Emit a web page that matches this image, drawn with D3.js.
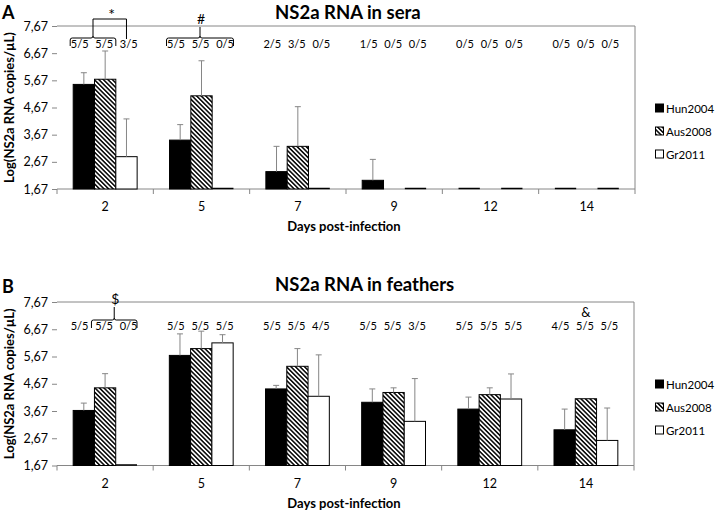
<!DOCTYPE html>
<html><head><meta charset="utf-8">
<script src="https://cdn.jsdelivr.net/npm/d3@7"></script>
<style>
body{margin:0;background:#fff}
svg{display:block}
text{font-family:Lato,"Open Sans",sans-serif;fill:#000}
</style>
</head><body>
<svg id="c" width="716" height="510"></svg>
<script>
// ---------- data ----------
const days = ["2","5","7","9","12","14"];
const series = ["Hun2004","Aus2008","Gr2011"];
const yTicks = [1.67,2.67,3.67,4.67,5.67,6.67,7.67];
const yTickLabels = ["1,67","2,67","3,67","4,67","5,67","6,67","7,67"];

// Panel A: sera
const seraHun    = [5.52,3.47,2.31,1.99,1.67,1.67];
const seraAus    = [5.71,5.10,3.24,1.67,1.67,1.67];
const seraGr     = [2.86,1.67,1.67,1.67,1.67,1.67];
const seraHunErr = [0.43,0.57,0.93,0.77,0,0];
const seraAusErr = [1.04,1.29,1.46,0,0,0];
const seraGrErr  = [1.39,0,0,0,0,0];
const seraNHun   = ["5/5","5/5","2/5","1/5","0/5","0/5"];
const seraNAus   = ["5/5","5/5","3/5","0/5","0/5","0/5"];
const seraNGr    = ["3/5","0/5","0/5","0/5","0/5","0/5"];

// Panel B: feathers
const feathHun    = [3.69,5.71,4.48,3.99,3.74,2.98];
const feathAus    = [4.52,5.96,5.31,4.35,4.27,4.12];
const feathGr     = [1.67,6.17,4.21,3.29,4.11,2.59];
const feathHunErr = [0.27,0.79,0.13,0.49,0.44,0.76];
const feathAusErr = [0.52,0.64,0.65,0.17,0.25,0];
const feathGrErr  = [0,0.30,1.52,1.57,0.92,1.19];
const feathNHun   = ["5/5","5/5","5/5","5/5","5/5","4/5"];
const feathNAus   = ["5/5","5/5","5/5","5/5","5/5","5/5"];
const feathNGr    = ["0/5","5/5","4/5","3/5","5/5","5/5"];

// significance annotations
const seraBraces  = [{day:"2",from:0,to:1,target:2,symbol:"*"},{day:"5",from:0,to:2,symbol:"#"}];
const feathBraces = [{day:"2",from:1,to:2,symbol:"$"}];
const feathMarks  = [{day:"14",series:1,symbol:"&"}];

// ---------- drawing ----------
const svg = d3.select("#c");
const defs = svg.append("defs");
const pat = defs.append("pattern").attr("id","hatch")
  .attr("patternUnits","userSpaceOnUse").attr("width",3.2).attr("height",3.2)
  .attr("patternTransform","rotate(-45)");
pat.append("rect").attr("width",3.2).attr("height",3.2).attr("fill","#fff");
pat.append("line").attr("x1",0.8).attr("x2",0.8).attr("y1",0).attr("y2",3.2)
  .attr("stroke","#000").attr("stroke-width",1.5);

const fills = ["#000","url(#hatch)","#fff"];
const grey = "#868686";

const panels = [
  {letter:"A", title:"NS2a RNA in sera", top:26, bottom:189, left:57, right:635,
   vals:[seraHun,seraAus,seraGr], errs:[seraHunErr,seraAusErr,seraGrErr],
   ns:[seraNHun,seraNAus,seraNGr], braces:seraBraces, marks:[], labelY:44,
   letterY:19, titleY:19, legY:[108,131,154]},
  {letter:"B", title:"NS2a RNA in feathers", top:302, bottom:465.5, left:57, right:634,
   vals:[feathHun,feathAus,feathGr], errs:[feathHunErr,feathAusErr,feathGrErr],
   ns:[feathNHun,feathNAus,feathNGr], braces:feathBraces, marks:feathMarks, labelY:326,
   letterY:293, titleY:291, legY:[384,407,430]}
];

panels.forEach(p => {
  const g = svg.append("g");
  const x0 = d3.scaleBand().domain(days).range([p.left,p.right]).padding(0);
  const x1 = d3.scaleBand().domain(series).range([0,x0.bandwidth()]).paddingInner(0).paddingOuter(0.76);
  const y = d3.scaleLinear().domain([1.67,7.67]).range([p.bottom,p.top]);
  const bw = x1.bandwidth();
  const barL = (d,j) => x0(d)+x1(series[j]);
  const barC = (d,j) => barL(d,j)+bw/2;

  // letter + title
  g.append("text").attr("x",2).attr("y",p.letterY).attr("font-size",18).attr("font-weight","bold").text(p.letter);
  g.append("text").attr("x",275).attr("y",p.titleY).attr("font-size",18.5).attr("font-weight","bold").text(p.title);

  // border (top + right)
  g.append("path").attr("d",`M${p.left},${p.top}H${p.right}V${p.bottom}`)
    .attr("fill","none").attr("stroke",grey).attr("stroke-width",1);

  // y axis (ticks only, no domain line)
  const yAxis = d3.axisLeft(y).tickValues(yTicks).tickSize(5).tickPadding(4)
    .tickFormat((d,i)=>yTickLabels[i]);
  const ya = g.append("g").attr("transform",`translate(${p.left},0)`).call(yAxis);
  ya.select(".domain").remove();
  ya.selectAll(".tick line").attr("stroke",grey);
  ya.selectAll(".tick text").attr("font-size",12.5).attr("font-family","Lato,'Open Sans',sans-serif").attr("fill","#000");

  // x axis: line with ticks at category boundaries
  const xa = g.append("g").attr("transform",`translate(0,${p.bottom})`);
  xa.append("line").attr("x1",p.left).attr("x2",p.right).attr("stroke",grey);
  const bounds = days.map(d=>x0(d)).concat([p.right]);
  xa.selectAll("line.tk").data(bounds).join("line").attr("class","tk")
    .attr("x1",d=>d).attr("x2",d=>d).attr("y1",0).attr("y2",5).attr("stroke",grey);
  xa.selectAll("text").data(days).join("text")
    .attr("x",d=>x0(d)+x0.bandwidth()/2).attr("y",22).attr("text-anchor","middle")
    .attr("font-size",12.5).text(d=>d);

  // axis titles
  g.append("text").attr("x",344).attr("y",p.bottom+42).attr("text-anchor","middle")
    .attr("font-size",13).attr("font-weight","bold").text("Days post-infection");
  g.append("text").attr("transform",`translate(14,${(p.top+p.bottom)/2}) rotate(-90)`)
    .attr("text-anchor","middle").attr("font-size",13).attr("font-weight","bold")
    .text("Log(NS2a RNA copies/µL)");

  // bars
  series.forEach((s,j) => {
    days.forEach((d,i) => {
      const v = p.vals[j][i];
      const h = y(1.67)-y(v);
      if (h < 0.5) {
        if (j===1) return;
        g.append("line").attr("x1",barL(d,j)).attr("x2",barL(d,j)+bw)
          .attr("y1",y(v)-0.5).attr("y2",y(v)-0.5).attr("stroke","#000").attr("stroke-width",1.5);
        return;
      }
      g.append("rect").attr("x",barL(d,j)).attr("y",y(v)).attr("width",bw).attr("height",h)
        .attr("fill",fills[j]).attr("stroke","#000").attr("stroke-width",1);
    });
  });

  // error bars
  series.forEach((s,j) => {
    days.forEach((d,i) => {
      const e = p.errs[j][i];
      if (!e) return;
      const v = p.vals[j][i];
      const cx = barC(d,j);
      g.append("line").attr("x1",cx).attr("x2",cx).attr("y1",y(v)).attr("y2",y(v+e))
        .attr("stroke",grey).attr("stroke-width",1);
      g.append("line").attr("x1",cx-3).attr("x2",cx+3).attr("y1",y(v+e)).attr("y2",y(v+e))
        .attr("stroke",grey).attr("stroke-width",1);
    });
  });

  // n/5 labels
  series.forEach((s,j) => {
    days.forEach((d,i) => {
      const c = x0(d)+x0.bandwidth()/2;
      const lx = c - 1 + (barC(d,j)-c)*1.15;
      g.append("text").attr("x",lx).attr("y",p.labelY+4).attr("text-anchor","middle")
        .attr("font-size",11).text(p.ns[j][i]);
    });
  });

  // braces
  const ly = p.labelY;
  p.braces.forEach(b => {
    const xa1 = barL(b.day,b.from)-3;
    const xa2 = barL(b.day,b.to)+bw;
    const yl = ly-6, ye = ly+2, r = 2;
    const tx = (xa1+xa2)/2;
    const tipTop = b.target!==undefined ? ly-25 : (p.letter==="A" ? ly-17 : ly-19);
    const path = `M${xa1},${ye}V${yl+r}Q${xa1},${yl} ${xa1+r},${yl}H${tx-r}Q${tx},${yl} ${tx},${yl-r}`+
                 `M${tx},${yl-r}Q${tx},${yl} ${tx+r},${yl}H${xa2-r}Q${xa2},${yl} ${xa2},${yl+r}V${ye}`+
                 `M${tx},${yl-r}V${tipTop}`;
    g.append("path").attr("d",path).attr("fill","none").attr("stroke","#000").attr("stroke-width",1);
    if (b.target!==undefined) {
      const tx2 = barC(b.day,b.target);
      g.append("path").attr("d",`M${tx},${tipTop}H${tx2}V${ly-5}`)
        .attr("fill","none").attr("stroke","#000").attr("stroke-width",1);
      g.append("text").attr("x",(tx+tx2)/2+2).attr("y",tipTop+1).attr("text-anchor","middle")
        .attr("font-size",16).text(b.symbol);
    } else {
      g.append("text").attr("x",tx+1).attr("y",tipTop-3).attr("text-anchor","middle")
        .attr("font-size",14).text(b.symbol);
    }
  });
  p.marks.forEach(m => {
    g.append("text").attr("x",barC(m.day,m.series)).attr("y",ly-9).attr("text-anchor","middle")
      .attr("font-size",13).text(m.symbol);
  });

  // legend
  series.forEach((s,j) => {
    g.append("rect").attr("x",655.5).attr("y",p.legY[j]-4).attr("width",8).attr("height",8)
      .attr("fill",fills[j]).attr("stroke","#000").attr("stroke-width",1);
    g.append("text").attr("x",666).attr("y",p.legY[j]+4.5).attr("font-size",11.5).text(s);
  });
});
</script>
</body></html>
